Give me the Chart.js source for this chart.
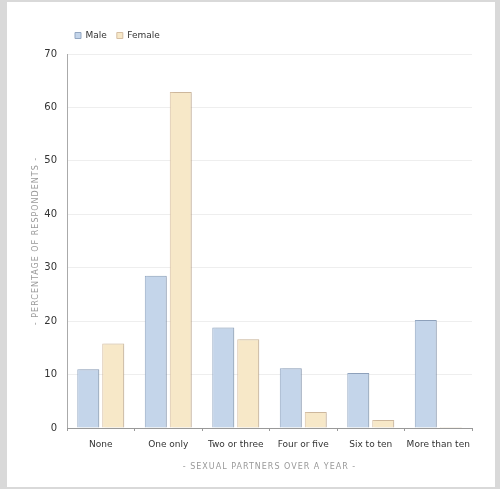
<!DOCTYPE html>
<html>
<head>
<meta charset="utf-8">
<script src="https://cdn.jsdelivr.net/npm/chart.js@4"></script>
<style>
  html, body { margin: 0; padding: 0; background: #fff; }
  #frame {
    width: 488px; height: 485px;
    border-style: solid; border-color: #d9d9d9;
    border-width: 2px 5px 2px 7px;
    background: #fff;
  }
  canvas { display: block; }
</style>
</head>
<body>
<div id="frame"><canvas id="graph" width="488" height="485"></canvas></div>
<script>
var categories = ['None', 'One only', 'Two or three', 'Four or five', 'Six to ten', 'More than ten'];
var male = [11.0, 28.5, 18.8, 11.2, 10.3, 20.2];
var female = [15.8, 62.9, 16.6, 3.0, 1.5, 0.2];
var yTicks = [0, 10, 20, 30, 40, 50, 60, 70];

const ctx = document.getElementById('graph').getContext('2d');
const font = 'DejaVu Sans, Verdana, sans-serif';

// spaced-out caps for the axis titles
function spaceTitle(scale) {
	if (!scale || scale._spaced) return;
	scale._spaced = true;
	const orig = scale.drawTitle;
	scale.drawTitle = function () {
		const c = this.ctx;
		c.save();
		c.letterSpacing = '1px';
		orig.apply(this, arguments);
		c.restore();
	};
}

const tweaks = {
	id: 'tweaks',
	afterLayout(chart) {
		spaceTitle(chart.scales.x);
		spaceTitle(chart.scales.y);
		chart.legend.left += 58;
		chart.legend.top -= 4;
	},
	beforeDatasetsDraw(chart) {
		const c = chart.ctx;
		c.save();
		c.shadowColor = 'rgba(0,0,0,0.12)';
		c.shadowOffsetX = 2;
		c.shadowOffsetY = 0;
		c.shadowBlur = 2;
	},
	afterDatasetsDraw(chart) {
		chart.ctx.restore();
	}
};

new Chart(ctx, {
	type: 'bar',
	data: {
		labels: categories,
		datasets: [{
			label: 'Male',
			data: male,
			backgroundColor: '#c4d5ea',
			borderColor: '#93a7c2',
			borderWidth: 1
		},
		{
			label: 'Female',
			data: female,
			backgroundColor: '#f7e8c8',
			borderColor: '#d6bfa3',
			borderWidth: 1
		}]
	},
	options: {
		animation: false,
		responsive: false,
		categoryPercentage: 0.74,
		barPercentage: 0.88,
		layout: {
			padding: { top: 23, right: 23, bottom: 0, left: 0 }
		},
		scales: {
			y: {
				min: 0,
				max: 70,
				afterBuildTicks: function (scale) {
					scale.ticks = yTicks.map(v => ({ value: v }));
				},
				afterFit: function (scale) {
					scale.width = 60;
				},
				border: { color: '#aaaaaa' },
				grid: { color: '#eeeeee', drawTicks: false },
				ticks: {
					color: '#333333',
					padding: 10,
					font: { family: font, size: 10 }
				},
				title: {
					display: true,
					text: '- PERCENTAGE OF RESPONDENTS -',
					color: '#999999',
					padding: { top: 24, bottom: 0 },
					font: { family: font, size: 8 }
				}
			},
			x: {
				afterFit: function (scale) {
					scale.height = 59;
				},
				border: { color: '#999999' },
				grid: {
					drawOnChartArea: false,
					color: '#999999',
					tickLength: 3
				},
				ticks: {
					color: '#333333',
					padding: 8,
					maxRotation: 0,
					autoSkip: false,
					font: { family: font, size: 9 }
				},
				title: {
					display: true,
					text: '- SEXUAL PARTNERS OVER A YEAR -',
					color: '#999999',
					padding: { top: 6, bottom: 15 },
					font: { family: font, size: 8 }
				}
			}
		},
		plugins: {
			tooltip: { enabled: false },
			legend: {
				position: 'top',
				align: 'start',
				labels: {
					color: '#333333',
					boxWidth: 6,
					boxHeight: 6,
					padding: 10,
					font: { family: font, size: 9 }
				}
			}
		}
	},
	plugins: [tweaks]
});
</script>
</body>
</html>
